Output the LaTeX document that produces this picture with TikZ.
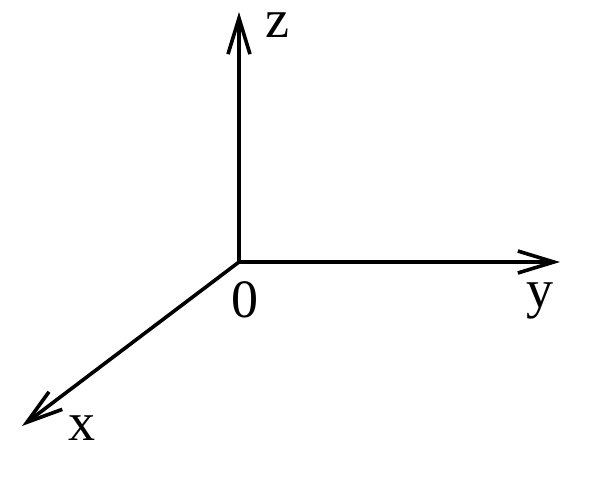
\documentclass[tikz,border=0pt]{standalone}
\usepackage{fontspec}
\setmainfont{Liberation Serif}
\usetikzlibrary{arrows.meta}
\begin{document}
\begin{tikzpicture}[x=1pt,y=-1pt,
  axis/.style={line width=3.6pt, -{Straight Barb[length=36pt,width=22pt,line width=3.6pt]}},
  lab/.style={inner sep=0pt, anchor=base west, font=\fontsize{54}{54}\selectfont}]
\useasboundingbox (0,0) rectangle (600,480);
\coordinate (o) at (239,262);
\coordinate (zt) at (239,12);
\coordinate (yt) at (560,262);
\coordinate (xt) at (22,426);
\draw[axis] (o) -- (zt);
\draw[axis] (o) -- (yt);
\draw[axis] (o) -- (xt);
\node[lab] (zl) at (265,37) {z};
\node[lab] (ol) at (231,317) {0};
\node[lab] (yl) at (526,307) {y};
\node[lab] (xl) at (68,440) {x};
\end{tikzpicture}
\end{document}
